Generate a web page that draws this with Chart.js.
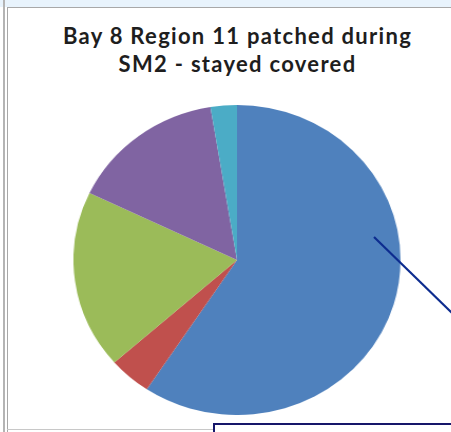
<!DOCTYPE html>
<html>
<head>
<meta charset="utf-8">
<script src="https://cdn.jsdelivr.net/npm/chart.js@4"></script>
<style>
  body { margin: 0; width: 451px; height: 432px; overflow: hidden; background: #fff; position: relative; font-family: Lato, "Open Sans", sans-serif; }
  .faixa { position: absolute; left: 0; top: 0; width: 451px; height: 7px; background: #e8f3fc; }
  .linha-esq1 { position: absolute; left: 3px; top: 0; width: 2px; height: 432px; background: #b4b4b4; }
  .linha-esq2 { position: absolute; left: 7px; top: 7px; width: 1px; height: 425px; background: #a8a8a8; }
  .linha-topo { position: absolute; left: 7px; top: 7px; width: 444px; height: 1px; background: #a8a8a8; }
  .linha-base { position: absolute; left: 7px; top: 429px; width: 206px; height: 1px; background: #c8c8c8; }
  #titulo { position: absolute; left: 1px; top: 22px; width: 473px; text-align: center; font-weight: bold; font-size: 22px; line-height: 28px; letter-spacing: 1.3px; color: #1e1e1e; }
  #pizza-box { position: absolute; left: 81.5px; top: 105px; width: 310px; height: 310px; transform: scaleX(1.055); transform-origin: 50% 50%; }
  svg { position: absolute; left: 0; top: 0; }
</style>
</head>
<body>
<div class="faixa"></div>
<div class="linha-esq1"></div>
<div class="linha-esq2"></div>
<div class="linha-topo"></div>
<div class="linha-base"></div>
<div id="titulo">Bay 8 Region 11 patched during<br>SM2 - stayed covered</div>
<div id="pizza-box"><canvas id="pizza" width="310" height="310"></canvas></div>
<svg width="451" height="432">
  <line x1="374" y1="237" x2="452" y2="313" stroke="#0d2c8f" stroke-width="2.2"/>
  <rect x="214" y="424" width="250" height="30" fill="#fff" stroke="#16166a" stroke-width="2"/>
</svg>
<script>
// ===== Dados =====
const fatias = ["1", "2", "3", "4", "5"];
const valores = [59.3, 4.2, 18.6, 15.3, 2.6];
const cores = ["#4f81bd", "#c0504d", "#9bbb59", "#8064a2", "#4bacc6"];

new Chart(document.getElementById("pizza"), {
  type: "pie",
  data: {
    labels: fatias,
    datasets: [{ data: valores, backgroundColor: cores, borderWidth: 0, hoverOffset: 0 }]
  },
  options: {
    responsive: false,
    animation: false,
    layout: { padding: 0 },
    plugins: { legend: { display: false }, tooltip: { enabled: false }, title: { display: false } }
  }
});
</script>
</body>
</html>
